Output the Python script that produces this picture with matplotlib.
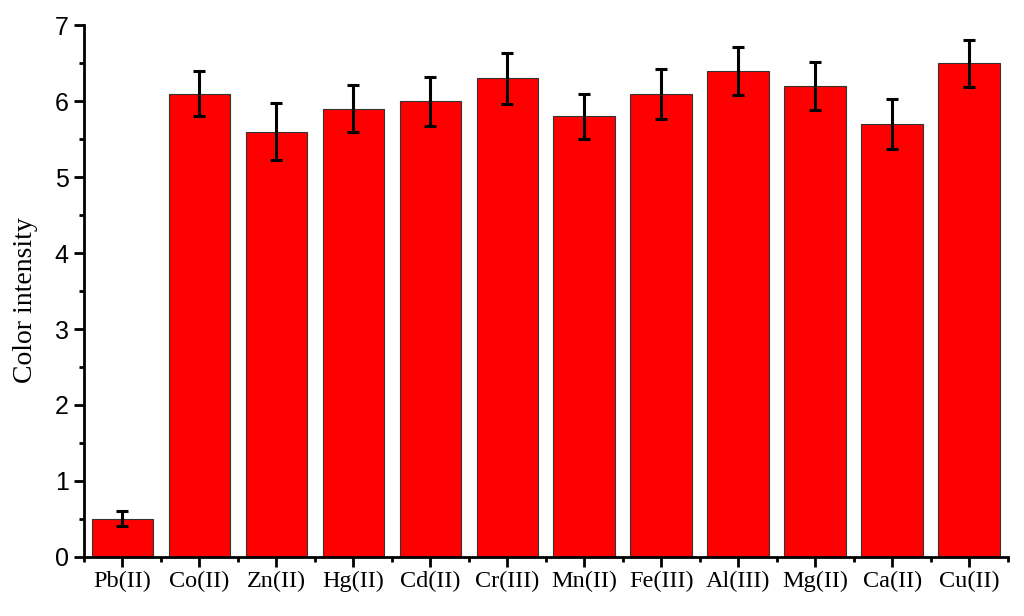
import matplotlib
matplotlib.use('Agg')

import matplotlib.pyplot as plt
from matplotlib.ticker import MultipleLocator, FixedLocator

ions = ['Pb(II)', 'Co(II)', 'Zn(II)', 'Hg(II)', 'Cd(II)', 'Cr(III)',
        'Mn(II)', 'Fe(III)', 'Al(III)', 'Mg(II)', 'Ca(II)', 'Cu(II)']
intensity = [0.5, 6.1, 5.6, 5.9, 6.0, 6.3, 5.8, 6.1, 6.4, 6.2, 5.7, 6.5]
error = [0.1, 0.3, 0.38, 0.31, 0.32, 0.34, 0.3, 0.33, 0.32, 0.32, 0.33, 0.31]

fig = plt.figure(figsize=(10.24, 6.16), dpi=100)
ax = fig.add_axes([0.082, 0.096, 0.902, 0.863])

x = list(range(len(ions)))
ax.bar(x, intensity, width=0.8, color='#ff0000', edgecolor='#333333',
       linewidth=0.8, zorder=2)
ax.errorbar(x, intensity, yerr=error, fmt='none', ecolor='black',
            elinewidth=2.2, capsize=4.3, capthick=2.2, zorder=3)

ax.set_xlim(-0.5, len(ions) - 0.5)
ax.set_ylim(0, 7)

ax.set_xticks(x)
ax.set_xticklabels(ions, family='Liberation Serif', fontsize=17.5)
ax.xaxis.set_minor_locator(FixedLocator([i + 0.5 for i in range(-1, len(ions))]))
ax.yaxis.set_major_locator(MultipleLocator(1))
ax.yaxis.set_minor_locator(MultipleLocator(0.5))
for lbl in ax.get_yticklabels():
    lbl.set_family('Liberation Sans')
    lbl.set_fontsize(18)

ax.set_ylabel('Color intensity', family='Liberation Serif', fontsize=20)
ax.yaxis.set_label_coords(-0.05, 0.483)

for side in ('top', 'right'):
    ax.spines[side].set_visible(False)
for side in ('left', 'bottom'):
    ax.spines[side].set_linewidth(2)

ax.tick_params(which='major', direction='out', length=7, width=2)
ax.tick_params(axis='y', which='major', pad=4)
ax.tick_params(axis='x', which='major', pad=3)
ax.tick_params(which='minor', direction='out', length=3.5, width=2)

fig.savefig('out.png', dpi=100)
